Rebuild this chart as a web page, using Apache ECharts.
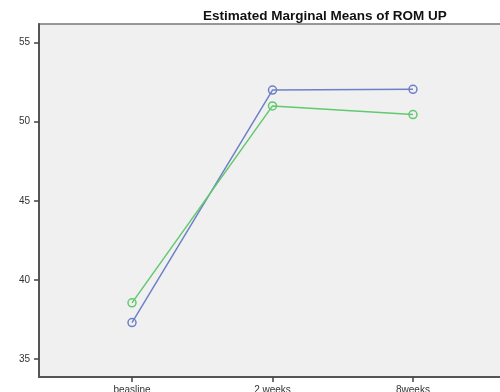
<!DOCTYPE html>
<html>
<head>
<meta charset="utf-8">
<script src="https://cdn.jsdelivr.net/npm/echarts@6/dist/echarts.min.js"></script>
<style>
html,body{margin:0;padding:0;background:#fff;}
#c{width:500px;height:392px;}
</style>
</head>
<body>
<div id="c"></div>
<script>
const categories = ['beasline', '2 weeks', '8weeks'];
const seriesBlue = [37.3, 52.0, 52.05];
const seriesGreen = [38.55, 51.0, 50.45];
const yTicks = [35, 40, 45, 50, 55];
const titleText = 'Estimated Marginal Means of ROM UP';

const chart = echarts.init(document.getElementById('c'), null, {renderer: 'canvas'});
const toPts = arr => arr.map((v, i) => [i + 1, v]);
const font = 'Liberation Sans, Arial, sans-serif';
chart.setOption({
  animation: false,
  backgroundColor: '#ffffff',
  title: {
    text: titleText,
    left: 198,
    top: 4,
    textStyle: {fontFamily: font, fontSize: 13.5, fontWeight: 'bold', color: '#111'}
  },
  grid: {
    left: 39, right: -5, top: 24, bottom: 15,
    outerBoundsMode: 'none',
    containLabel: false,
    show: true,
    backgroundColor: '#f0f0f0',
    borderColor: '#777',
    borderWidth: 1.5
  },
  xAxis: {
    type: 'value',
    min: 0.338, max: 3.655,
    splitLine: {show: false},
    axisLine: {show: true, onZero: false, lineStyle: {color: '#555', width: 2}},
    axisTick: {show: true, length: 5, customValues: [1, 2, 3], lineStyle: {color: '#444', width: 1.5}},
    axisLabel: {
      customValues: [1, 2, 3],
      formatter: v => categories[Math.round(v) - 1] || '',
      margin: 8,
      fontFamily: font, fontSize: 10, color: '#333'
    }
  },
  yAxis: {
    type: 'value',
    min: 33.86, max: 56.18,
    splitLine: {show: false},
    axisLine: {show: true, onZero: false, lineStyle: {color: '#555', width: 2}},
    axisTick: {show: true, length: 5, customValues: yTicks, lineStyle: {color: '#444', width: 1.5}},
    axisLabel: {
      customValues: yTicks,
      margin: 9,
      fontFamily: font, fontSize: 10, color: '#333'
    }
  },
  series: [
    {
      type: 'line', data: toPts(seriesBlue),
      symbol: 'circle', symbolSize: 8,
      lineStyle: {color: '#6f80c8', width: 1.5},
      itemStyle: {color: 'rgba(0,0,0,0)', borderColor: '#6f80c8', borderWidth: 1.5}
    },
    {
      type: 'line', data: toPts(seriesGreen),
      symbol: 'circle', symbolSize: 8,
      lineStyle: {color: '#62c96e', width: 1.5},
      itemStyle: {color: 'rgba(0,0,0,0)', borderColor: '#62c96e', borderWidth: 1.5}
    }
  ]
});
</script>
</body>
</html>
